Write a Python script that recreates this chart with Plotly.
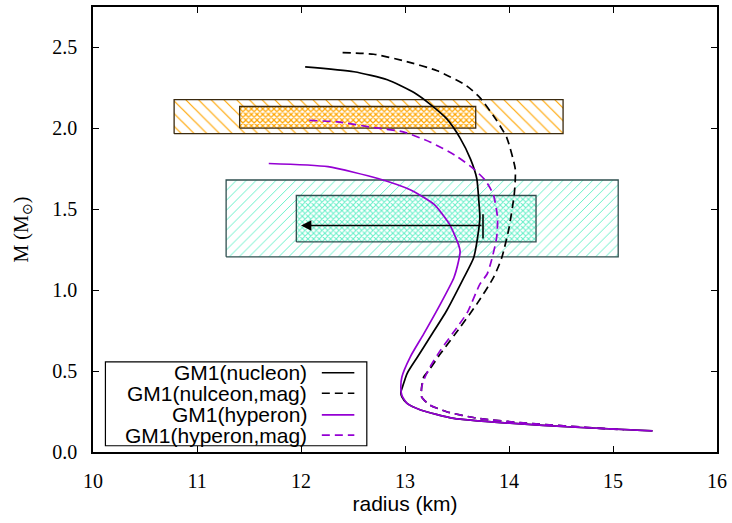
import plotly.graph_objects as go

# ---------------- data ----------------
nuc_r = [12.04, 12.51, 12.83, 13.09, 13.24, 13.40, 13.53, 13.63, 13.69, 13.71, 13.72, 13.71, 13.66, 13.56,
         13.40, 13.24, 13.12, 13.02, 12.975, 12.96, 12.97, 13.02, 13.15, 13.47, 14.01, 14.64, 15.38]
nuc_m = [2.38, 2.35, 2.30, 2.22, 2.15, 2.06, 1.94, 1.81, 1.69, 1.55, 1.45, 1.38, 1.20, 1.07,
         0.873, 0.709, 0.587, 0.485, 0.40, 0.37, 0.34, 0.30, 0.26, 0.208, 0.178, 0.153, 0.131]

hyp_r = [11.69, 12.26, 12.74, 13.05, 13.28, 13.43, 13.515, 13.53, 13.515, 13.47, 13.34, 13.18, 13.05,
         12.97, 12.96, 12.97, 13.02, 13.15, 13.47, 14.01, 14.64, 15.38]
hyp_m = [1.783, 1.763, 1.69, 1.62, 1.53, 1.405, 1.28, 1.24, 1.18, 1.077, 0.914, 0.73, 0.587,
         0.464, 0.40, 0.35, 0.30, 0.26, 0.208, 0.178, 0.153, 0.131]

nucmag_r = [12.40, 12.70, 12.99, 13.31, 13.59, 13.72, 13.88, 13.98, 14.06, 14.06, 14.05, 14.00, 13.93,
            13.85, 13.69, 13.53, 13.34, 13.23, 13.18, 13.16, 13.16, 13.24, 13.40, 13.69, 14.17, 14.96, 15.10]
nucmag_m = [2.468, 2.458, 2.417, 2.356, 2.264, 2.19, 2.05, 1.94, 1.75, 1.68, 1.59, 1.384, 1.20,
            1.077, 0.914, 0.77, 0.607, 0.505, 0.464, 0.40, 0.341, 0.29, 0.249, 0.209, 0.178, 0.143, 0.137]

hypmag_r = [12.08, 12.35, 12.67, 12.99, 13.24, 13.49, 13.66, 13.77, 13.85, 13.89, 13.88, 13.83, 13.79,
            13.72, 13.60, 13.50, 13.34, 13.24, 13.18, 13.16, 13.16, 13.24, 13.40, 13.69, 14.17, 14.96, 15.10]
hypmag_m = [2.049, 2.04, 2.008, 1.977, 1.916, 1.83, 1.75, 1.68, 1.59, 1.445, 1.32, 1.18, 1.10,
            1.037, 0.863, 0.77, 0.628, 0.525, 0.444, 0.40, 0.341, 0.29, 0.249, 0.209, 0.178, 0.143, 0.137]

# observational boxes: [r_min, r_max, m_min, m_max]
box_orange_outer = [10.78, 14.52, 1.967, 2.178]
box_orange_inner = [11.41, 13.68, 2.002, 2.135]
box_cyan_outer = [11.28, 15.05, 1.206, 1.681]
box_cyan_inner = [11.955, 14.26, 1.298, 1.585]

arrow_r = [13.75, 12.0]
arrow_m = 1.40
arrow_bar_m = [1.32, 1.47]

legend_labels = ["GM1(nucleon)", "GM1(nulceon,mag)", "GM1(hyperon)", "GM1(hyperon,mag)"]

x_range = [10, 16]
y_range = [0, 2.75]
x_ticks = [10, 11, 12, 13, 14, 15, 16]
y_ticks = [0.0, 0.5, 1.0, 1.5, 2.0, 2.5]

# ---------------- figure ----------------
BLACK = "#000000"
PURPLE = "#9400D3"
ORANGE = "#FFA500"
CYAN = "#66F0C8"

fig = go.Figure()


def rect(box, shape, size, solidity, fg, border):
    x0, x1, y0, y1 = box
    fig.add_trace(go.Scatter(
        x=[x0, x1, x1, x0, x0], y=[y0, y0, y1, y1, y0],
        mode="lines", fill="toself", fillcolor="rgba(0,0,0,0)",
        fillpattern=dict(shape=shape, size=size, solidity=solidity, fgcolor=fg,
                         bgcolor="white", fillmode="replace"),
        line=dict(color=border, width=1.3), showlegend=False, hoverinfo="skip"))


rect(box_orange_outer, "\\", 9, 0.13, ORANGE, "#3a2a10")
rect(box_orange_inner, "x", 4, 0.5, ORANGE, "#3a2a10")
rect(box_cyan_outer, "/", 7, 0.14, CYAN, "#2F4F4F")
rect(box_cyan_inner, "x", 4, 0.45, CYAN, "#2F4F4F")

dash = "8px,5px"
curves = [
    (nuc_r, nuc_m, BLACK, "solid"),
    (nucmag_r, nucmag_m, BLACK, dash),
    (hyp_r, hyp_m, PURPLE, "solid"),
    (hypmag_r, hypmag_m, PURPLE, dash),
]
for r, m, c, d in curves:
    fig.add_trace(go.Scatter(x=r, y=m, mode="lines",
                             line=dict(color=c, width=1.7, dash=d, shape="spline", smoothing=0.6),
                             showlegend=False, hoverinfo="skip"))

# arrow with start bar
fig.add_trace(go.Scatter(x=[arrow_r[0], arrow_r[0]], y=arrow_bar_m, mode="lines",
                         line=dict(color=BLACK, width=1.6), showlegend=False, hoverinfo="skip"))
fig.add_annotation(x=arrow_r[1], y=arrow_m, ax=arrow_r[0], ay=arrow_m,
                   xref="x", yref="y", axref="x", ayref="y",
                   showarrow=True, arrowhead=2, arrowsize=1.3, arrowwidth=1.6,
                   arrowcolor=BLACK, text="")

# manual legend (symbol on right, gnuplot style)
leg_x0, leg_x1, leg_y0, leg_y1 = 0.0199, 0.4388, 0.0141, 0.2025
fig.add_shape(type="rect", xref="paper", yref="paper", x0=leg_x0, x1=leg_x1, y0=leg_y0, y1=leg_y1,
              line=dict(color=BLACK, width=1.2), fillcolor="rgba(0,0,0,0)")
row_y = [0.178, 0.1319, 0.0835, 0.038]
for lab, yy, (_, _, c, d) in zip(legend_labels, row_y, curves):
    fig.add_annotation(x=0.3456, y=yy, xref="paper", yref="paper", text=lab, showarrow=False,
                       xanchor="right", yanchor="middle",
                       font=dict(family="Liberation Sans, Arial", size=21, color=BLACK))
    fig.add_shape(type="line", xref="paper", yref="paper", x0=0.3667, x1=0.4188, y0=yy, y1=yy,
                  line=dict(color=c, width=1.6, dash=d))

axis_common = dict(showline=True, linecolor=BLACK, linewidth=1.5, mirror="ticks",
                   ticks="inside", ticklen=6, tickwidth=1, tickcolor=BLACK,
                   showgrid=False, zeroline=False,
                   tickfont=dict(family="Liberation Serif, Times New Roman", size=20, color=BLACK))

fig.update_xaxes(range=x_range, tickvals=x_ticks, ticktext=[str(v) for v in x_ticks],
                 ticklabelstandoff=10,
                 title=dict(text="radius (km)", standoff=2,
                            font=dict(family="Liberation Sans, Arial", size=21, color=BLACK)),
                 **axis_common)
fig.update_yaxes(range=y_range, tickvals=y_ticks, ticktext=[f"{v:.1f}" for v in y_ticks],
                 ticklabelstandoff=10,
                 title=dict(text="M (M<sub>⊙</sub>)", standoff=18,
                            font=dict(family="Liberation Serif, Times New Roman", size=20, color=BLACK)),
                 **axis_common)

fig.update_layout(width=732, height=523, margin=dict(l=93, r=10, t=5, b=71),
                  plot_bgcolor="white", paper_bgcolor="white", showlegend=False)

fig.write_html("out.html")
